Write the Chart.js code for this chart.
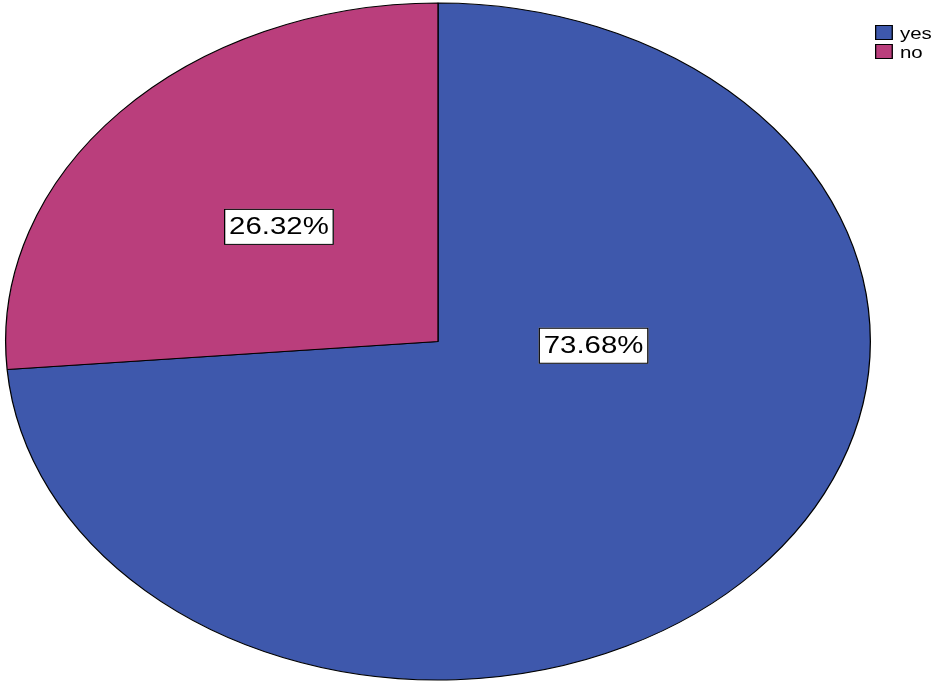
<!DOCTYPE html>
<html>
<head>
<meta charset="utf-8">
<script src="https://cdn.jsdelivr.net/npm/chart.js@4/dist/chart.umd.min.js"></script>
<style>
  html, body { margin: 0; padding: 0; background: #fff; }
  #wrap { width: 935px; height: 684px; position: relative; }
</style>
</head>
<body>
<div id="wrap"><canvas id="canvas-1"></canvas></div>
<script>
var categories = ['yes', 'no'];
var percents = [73.68, 26.32];
var sliceColors = ['#3E58AC', '#BA3E7C'];

// the original picture is a round pie stretched sideways
var SX = 433 / 339;

function stretchAt(ctx, cx, cy) {
  ctx.translate(cx, cy);
  ctx.scale(SX, 1);
  ctx.translate(-cx, -cy);
}

var ellipse = {
  id: 'ellipse',
  beforeDatasetsDraw: function (chart) {
    var a = chart.getDatasetMeta(0).data[0];
    chart.ctx.save();
    stretchAt(chart.ctx, a.x, a.y);
  },
  afterDatasetsDraw: function (chart) {
    chart.ctx.restore();
  }
};

// boxed percent labels, legend top right
var labels = {
  id: 'labels',
  afterDraw: function (chart) {
    var ctx = chart.ctx;
    var arcs = chart.getDatasetMeta(0).data;
    // label anchor: angle (deg, null = middle of slice) and fraction of radius
    var anchors = [{ angle: 2, r: 0.36 }, { angle: null, r: 0.5 }];
    arcs.forEach(function (a, i) {
      var ang = anchors[i].angle === null ? (a.startAngle + a.endAngle) / 2 : anchors[i].angle * Math.PI / 180;
      var px = a.x + Math.cos(ang) * a.outerRadius * anchors[i].r * SX;
      var py = a.y + Math.sin(ang) * a.outerRadius * anchors[i].r;
      var txt = percents[i].toFixed(2) + '%';
      ctx.save();
      stretchAt(ctx, px, py);
      ctx.font = '23px "Liberation Sans", Arial, sans-serif';
      var w = 86, h = 36;
      ctx.fillStyle = '#fff';
      ctx.fillRect(px - w / 2, py - h / 2, w, h);
      ctx.strokeStyle = '#000';
      ctx.lineWidth = 1;
      ctx.strokeRect(px - w / 2 + 0.5, py - h / 2 + 0.5, w - 1, h - 1);
      ctx.fillStyle = '#000';
      ctx.textAlign = 'center';
      ctx.textBaseline = 'middle';
      ctx.fillText(txt, px, py + 1);
      ctx.restore();
    });

    // legend
    ctx.save();
    var lx = 875, ly = 25;
    stretchAt(ctx, lx, ly);
    ctx.font = '16px "Liberation Sans", Arial, sans-serif';
    ctx.textBaseline = 'alphabetic';
    ctx.textAlign = 'left';
    categories.forEach(function (c, i) {
      var y = ly + i * 19;
      ctx.fillStyle = sliceColors[i];
      ctx.fillRect(lx, y, 14, 15);
      ctx.strokeStyle = '#000';
      ctx.lineWidth = 1;
      ctx.strokeRect(lx + 0.5, y + 0.5, 13, 14);
      ctx.fillStyle = '#000';
      ctx.fillText(c, lx + 19.5, y + 14);
    });
    ctx.restore();
  }
};

var pieData = {
  labels: categories,
  datasets: [{
    data: percents,
    backgroundColor: sliceColors,
    borderColor: '#000',
    borderWidth: 1
  }]
};

var ctx = document.getElementById('canvas-1');
var chart = new Chart(ctx, {
  type: 'pie',
  data: pieData,
  options: {
    responsive: true,
    maintainAspectRatio: false,
    animation: false,
    layout: { padding: { top: 2, bottom: 3, left: 99, right: 158 } },
    plugins: {
      legend: { display: false },
      tooltip: { enabled: false }
    }
  },
  plugins: [ellipse, labels]
});
</script>
</body>
</html>
